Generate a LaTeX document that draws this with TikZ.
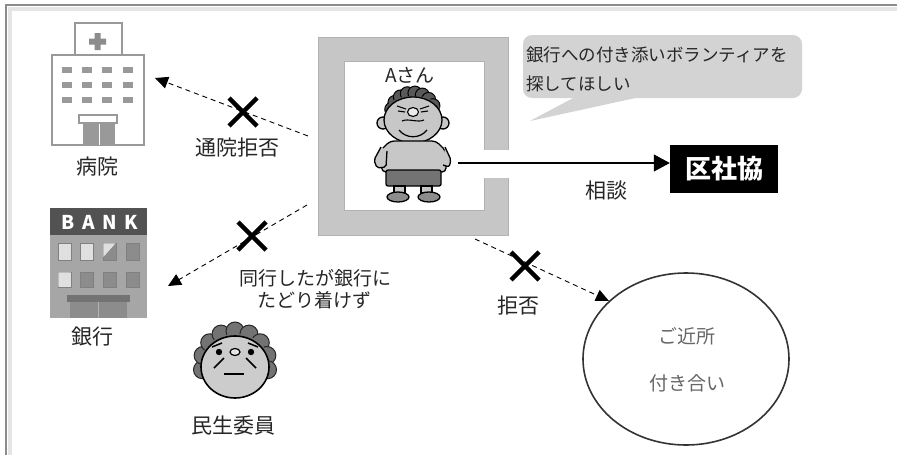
\documentclass[tikz,border=0pt]{standalone}
\usepackage{fontspec}
\setmainfont{Noto Sans CJK JP}
\usetikzlibrary{arrows.meta,shapes.geometric}

\definecolor{panel}{HTML}{C6C6C6}
\definecolor{frameline}{HTML}{8C8C8C}
\definecolor{bubblefill}{HTML}{D3D3D3}

\tikzset{
  lbl/.style={font=\fontsize{21}{25}\selectfont, text=black!85, inner sep=0pt},
  refuse/.style={dashed, dash pattern=on 5pt off 4pt, line width=0.9pt,
    -{Triangle[length=13pt,width=12pt]}},
  nogo/.style={line width=4.5pt},
  icon/.style={draw=black!40, line width=1.6pt},
  ink/.style={draw=black, line width=1.3pt}
}

\begin{document}
\begin{tikzpicture}[x=1pt,y=-1pt]
  \useasboundingbox (0,0) rectangle (897,455);
  \fill[white] (0,0) rectangle (897,455);
  % outer frame
  \draw[black!10, line width=4pt] (10,455) -- (10,9) -- (897,9);
  \draw[frameline, line width=2pt] (5.5,455) -- (5.5,4.5) -- (897,4.5);

  % hospital
  \filldraw[icon, fill=white] (75,23) rectangle (122,55);
  \fill[black!45] (94.5,33) rectangle (100.5,50) (89,38.5) rectangle (106,44.5);
  \filldraw[icon, fill=white] (52,55) rectangle (144,145);
  \foreach \y in {67,82,97}{
    \foreach \x in {62,82,102,123}{
      \fill[black!40] (\x,\y) rectangle +(10,6);
    }
  }
  \fill[black!40] (83,123) rectangle (115,145);
  \draw[white, line width=1pt] (99,123) -- (99,145);
  \filldraw[icon, line width=1.2pt, fill=white] (79,115) rectangle (117,123);
  \coordinate (hosp) at (155,78);
  \node[lbl] (hosp-lbl) at (97,167) {病院};

  % bank
  \fill[black!35] (50,235) rectangle (147,318);
  \fill[black!68] (50,208) rectangle (147,235);
  \foreach \c [count=\i] in {B,A,N,K}{
    \node[text=white, font=\fontsize{19}{19}\bfseries] at (47+21*\i,222) {\c};
  }
  \foreach \x/\a/\b in {58/12/12,80/12/45,103/45/45,126/45/45}{
    \filldraw[draw=black!50, line width=0.6pt, fill=black!\a] (\x,243) rectangle +(13,17);
    \filldraw[draw=black!50, line width=0.6pt, fill=black!\b] (\x,272) rectangle +(13,15);
  }
  \fill[black!12] (103.3,243.3) -- (115.5,243.3) -- (103.3,257) -- cycle;
  \fill[black!12] (58.3,272.3) rectangle (70.7,282) (58.3,282) -- (70.7,282) -- (58.3,286.7) -- cycle;
  \fill[black!55] (67,295) rectangle (130,302);
  \fill[black!45] (70,302) rectangle (127,318);
  \draw[black!30, line width=1pt] (98.5,302) -- (98.5,318);
  \coordinate (bank) at (168,286);
  \node[lbl] (bank-lbl) at (92,337) {銀行};

  % minsei iin
  \foreach \a in {170,195,...,370}{
    \filldraw[draw=black!85, line width=1pt, fill=black!55] (235,364) ++(\a:33) circle (9);
  }
  \fill[black!55] (235,360) ellipse (33 and 26);
  \filldraw[ink, fill=black!20, line width=1.6pt] (235,367) ellipse (34 and 31);
  \fill (219,352) circle (3.2) (251,352) circle (3.2);
  \draw[line width=1.5pt] (212,347) -- (222,343) (258,347) -- (248,343);
  \filldraw[ink, fill=black!10, line width=1.2pt] (235,352) ellipse (5 and 3.5);
  \draw[line width=1.6pt] (224,358) -- (214,368) (246,358) -- (256,368);
  \draw[line width=1.6pt] (224,374) -- (244,374);
  \node[lbl] (minsei) at (233,426) {民生委員};

  % A-san
  \node[fill=panel, draw=black!30, line width=0.8pt, minimum width=190pt,
    minimum height=198pt, inner sep=0pt] (asan) at (413,136) {};
  \filldraw[draw=black!30, line width=0.8pt, fill=white] (344,61) rectangle (484,210);
  \fill[white] (483,150) rectangle (509,178);
  \node[lbl, font=\fontsize{19}{22}\selectfont] (asan-lbl) at (410,75) {Aさん};
  % hair and face
  \foreach \a in {195,215,...,345}{
    \filldraw[draw=black, line width=1pt, fill=black!65] (413,115) ++(\a:22) circle (7);
  }
  \fill[black!65] (413,110) ellipse (27 and 14);
  \filldraw[ink, fill=black!22] (383,123) circle (6) (443,123) circle (6);
  \filldraw[ink, fill=black!22] (413,120) ellipse (29 and 23);
  \draw[line width=1.1pt] (397,106) -- (406,109) (420,109) -- (429,106)
    (398,111) -- (405,112) (421,112) -- (428,111);
  \filldraw[ink, fill=black!8, line width=1.1pt] (413,112) ellipse (5.5 and 4.5);
  \draw[line width=1.1pt] (402,121) .. controls (408,118) and (418,123) .. (424,120);
  \draw[line width=1.2pt] (399,130) .. controls (406,139) and (420,139) .. (427,130);
  % body
  \filldraw[ink, fill=black!22, rounded corners=4pt] (390,141) -- (436,141)
    -- (446,151) -- (446,172) -- (382,172) -- (380,151) -- cycle;
  \filldraw[ink, fill=black!22, rounded corners=2pt] (381,147) -- (374,160)
    -- (377,168) -- (386,167) -- (387,151);
  \filldraw[ink, fill=black!22, rounded corners=2pt] (445,147) -- (451,160)
    -- (449,167) -- (443,165);
  \filldraw[ink, fill=black!55, rounded corners=2pt] (386,170) rectangle (441,186);
  \filldraw[ink, fill=black!22] (394,186) rectangle (405,193) (421,186) rectangle (432,193);
  \filldraw[ink, fill=black!45] (398,197) ellipse (11 and 5) (429,197) ellipse (11 and 5);
  \coordinate (asan-h) at (308,136);
  \coordinate (asan-b) at (307,205);
  \coordinate (asan-k) at (475,239);
  \coordinate (asan-out) at (458,163);

  % speech bubble
  \fill[bubblefill, rounded corners=9pt] (523,35) rectangle (802,98);
  \fill[bubblefill] (575,97) -- (530,121) -- (640,97) -- cycle;
  \node[lbl, font=\fontsize{17.5}{29}\selectfont, align=left, anchor=west]
    (wish) at (526,69.5) {銀行への付き添いボランティアを\\探してほしい};

  % kushakyo
  \node[fill=black, text=white, font=\fontsize{26}{30}\bfseries\selectfont,
    minimum width=108pt, minimum height=48pt] (kusha) at (724,169) {区社協};
  \draw[line width=1.1pt, -{Triangle[length=16pt,width=17pt]}]
    (asan-out) -- (asan-out -| kusha.west);
  \node[lbl] (soudan) at (606,191) {相談};

  % neighbours
  \node[draw=black!80, line width=1.6pt, ellipse, minimum width=206pt,
    minimum height=172pt] (kinjo) at (686,359) {};
  \node[lbl, text=black!60, font=\fontsize{19}{22}\selectfont] at (687,336) {ご近所};
  \node[lbl, text=black!60, font=\fontsize{19}{22}\selectfont] at (687,383) {付き合い};

  % refused links
  \draw[refuse] (asan-h) -- (hosp);
  \draw[refuse] (asan-b) -- (bank);
  \draw[refuse] (asan-k) -- (kinjo.143);
  \foreach \x/\y in {243/112,252/236,525/266}{
    \draw[nogo] (\x-14,\y-14) -- (\x+14,\y+14) (\x-14,\y+14) -- (\x+14,\y-14);
  }
  \node[lbl] (tsuin) at (237,148) {通院拒否};
  \node[lbl, font=\fontsize{19}{22}\selectfont] (doko1) at (315,278) {同行したが銀行に};
  \node[lbl, font=\fontsize{19}{22}\selectfont] (doko2) at (314,300) {たどり着けず};
  \node[lbl] (kyohi) at (518,306) {拒否};
\end{tikzpicture}
\end{document}
